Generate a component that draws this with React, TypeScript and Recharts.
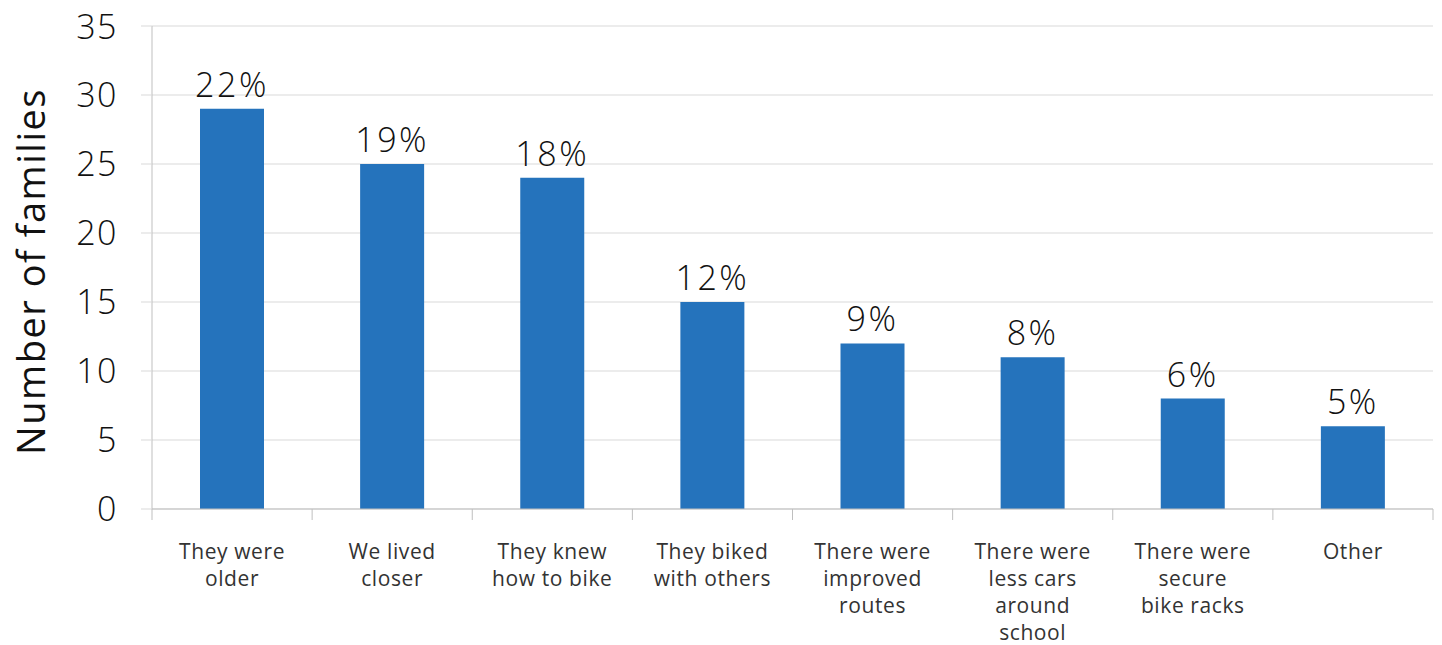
import { BarChart, Bar, XAxis, YAxis, CartesianGrid, LabelList, Label } from "recharts";

const categories: string[] = [
  "They were\nolder",
  "We lived\ncloser",
  "They knew\nhow to bike",
  "They biked\nwith others",
  "There were\nimproved\nroutes",
  "There were\nless cars\naround\nschool",
  "There were\nsecure\nbike racks",
  "Other",
];
const families: number[] = [29, 25, 24, 15, 12, 11, 8, 6];
const percents: string[] = ["22%", "19%", "18%", "12%", "9%", "8%", "6%", "5%"];
const yTicks: number[] = [0, 5, 10, 15, 20, 25, 30, 35];

const data = categories.map((c, i) => ({ name: c, families: families[i], pct: percents[i] }));

const FONT = "'Open Sans', sans-serif";
const W = 1434;
const H = 637;
const LEFT = 144;
const RIGHT = 9;
const STEP = (W - LEFT - RIGHT) / categories.length;

const CategoryTick = ({ x, y, payload, index }: any) => {
  const lines = String(payload.value).split("\n");
  const last = index === categories.length - 1;
  return (
    <g>
      <line x1={x - STEP / 2} x2={x - STEP / 2} y1={y - 8} y2={y + 3} stroke="#bfbfbf" />
      {last && <line x1={x + STEP / 2} x2={x + STEP / 2} y1={y - 8} y2={y + 3} stroke="#bfbfbf" />}
      <text
        x={x}
        y={y + 42}
        textAnchor="middle"
        fill="#333"
        fontSize={21}
        fontFamily={FONT}
        letterSpacing={0.6}
      >
        {lines.map((l, i) => (
          <tspan key={i} x={x} dy={i === 0 ? 0 : 27}>
            {l}
          </tspan>
        ))}
      </text>
    </g>
  );
};

export default function App() {
  return (
    <BarChart
      width={W}
      height={H}
      data={data}
      margin={{ top: 18, right: RIGHT, bottom: 0, left: 0 }}
      barCategoryGap={48}
    >
      <CartesianGrid vertical={false} stroke="#d9d9d9" />
      <XAxis
        dataKey="name"
        interval={0}
        height={136}
        tickLine={false}
        axisLine={{ stroke: "#bfbfbf" }}
        tick={<CategoryTick />}
      />
      <YAxis
        width={LEFT}
        domain={[0, 35]}
        ticks={yTicks}
        tickSize={11}
        tickMargin={23}
        axisLine={{ stroke: "#bfbfbf" }}
        tickLine={{ stroke: "#d9d9d9" }}
        tick={{ fill: "#111", fontSize: 34, fontFamily: FONT, fontWeight: 300, letterSpacing: 1.5 }}
      >
        <Label
          content={({ viewBox }: any) => {
            const cx = viewBox.x + 22;
            const cy = viewBox.y + viewBox.height / 2 + 4;
            return (
              <text
                x={cx}
                y={cy}
                transform={`rotate(-90 ${cx} ${cy})`}
                textAnchor="middle"
                dominantBaseline="central"
                fontSize={38}
                fontFamily={FONT}
                letterSpacing={1.5}
                fill="#111"
              >
                Number of families
              </text>
            );
          }}
        />
      </YAxis>
      <Bar dataKey="families" fill="#2573bc" isAnimationActive={false}>
        <LabelList
          dataKey="pct"
          position="top"
          offset={12}
          fill="#111"
          fontSize={34}
          fontFamily={FONT}
          fontWeight={300}
          letterSpacing={2.5}
        />
      </Bar>
    </BarChart>
  );
}
